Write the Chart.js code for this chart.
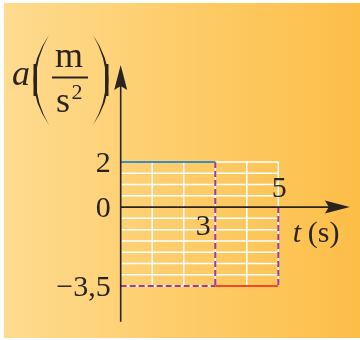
<!DOCTYPE html>
<html>
<head>
<meta charset="utf-8">
<script src="https://cdn.jsdelivr.net/npm/chart.js@4"></script>
<style>
  html, body { margin: 0; padding: 0; background: #ffffff; }
  #wrap {
    position: relative; width: 360px; height: 340px;
    background: #ffffff;
  }
  #paper {
    position: absolute; left: 4px; top: 3px; width: 356px; height: 335px;
    background: linear-gradient(to right, #fedb8f, #fdcb66 55%, #fdbe48);
  }
  #chart { position: absolute; left: 0; top: 0; }
</style>
</head>
<body>
<div id="wrap">
  <div id="paper"></div>
  <canvas id="chart" width="360" height="340"></canvas>
</div>
<script>
// ── DATOS ──────────────────────────────────────────
// tramos de tiempo (s) y aceleración de cada tramo (m/s²)
var tramoT   = [0, 3, 5];
var tramoA   = [2, -3.5];

// cuadrícula blanca
var gridT    = [1, 2, 3, 4, 5];
var gridA    = [2, 1.5, 1, 0.5, -0.5, -1, -1.5, -2, -2.5, -3, -3.5];

// marcas de los ejes
var yTickVal = [2, 0, -3.5];
var yTickTxt = ['2', '0', '\u22123,5'];
var xTickVal = [3, 5];
var xTickTxt = ['3', '5'];

// extremos de los ejes (flechas)
var ejeT     = [0, 7.27];
var ejeA     = [-5.08, 6.30];

// ── ARMADO DE SERIES ───────────────────────────────
function segs(list) {
  // lista de segmentos [[x1,y1,x2,y2], ...] -> puntos con cortes null
  var out = [];
  list.forEach(function (s) {
    out.push({ x: s[0], y: s[1] }, { x: s[2], y: s[3] }, { x: s[2], y: null });
  });
  return out;
}

var tMax = tramoT[tramoT.length - 1];
var aTop = tramoA[0], aBot = tramoA[1];

var gridH = segs(gridA.map(function (a) { return [0, a, tMax, a]; }));
var gridV = segs(gridT.map(function (t) { return [t, aBot, t, aTop]; }));

var azul = [{ x: tramoT[0], y: tramoA[0] }, { x: tramoT[1], y: tramoA[0] }];
var rojo = [{ x: tramoT[1], y: tramoA[1] }, { x: tramoT[2], y: tramoA[1] }];
var punteada = segs([
  [tramoT[1], aTop, tramoT[1], aBot],
  [tramoT[0], aBot, tramoT[1], aBot],
  [tramoT[2], 0, tramoT[2], aBot]
]);
var ejes = segs([
  [0, 0, ejeT[1] - 0.5, 0],
  [0, ejeA[0], 0, ejeA[1] - 0.8]
]);

// order alto = se dibuja primero (queda debajo)
function linea(data, color, width, order, dash) {
  return {
    data: data, showLine: true, borderColor: color, borderWidth: width,
    borderDash: dash || [], pointRadius: 0, spanGaps: false, clip: false,
    fill: false, tension: 0, order: order
  };
}

var SERIF = "'Liberation Serif', 'DejaVu Serif', serif";
var TINTA = '#2a2420';

// ── TEXTOS Y FLECHAS ───────────────────────────────
var extras = {
  id: 'extras',
  afterDatasetsDraw: function (chart) {
    var c = chart.ctx, sx = chart.scales.x, sy = chart.scales.y;
    var x0 = sx.getPixelForValue(0), y0 = sy.getPixelForValue(0);
    c.save();
    c.fillStyle = TINTA;

    // flecha eje t
    var tx = sx.getPixelForValue(ejeT[1]);
    c.beginPath();
    c.moveTo(tx, y0);
    c.lineTo(tx - 25, y0 - 6.5);
    c.lineTo(tx - 21, y0);
    c.lineTo(tx - 25, y0 + 6.5);
    c.closePath();
    c.fill();

    // flecha eje a
    var ty = sy.getPixelForValue(ejeA[1]);
    c.beginPath();
    c.moveTo(x0, ty);
    c.lineTo(x0 - 6.5, ty + 25);
    c.lineTo(x0, ty + 21);
    c.lineTo(x0 + 6.5, ty + 25);
    c.closePath();
    c.fill();

    // marcas eje a
    c.font = '30px ' + SERIF;
    c.textAlign = 'right';
    c.textBaseline = 'alphabetic';
    yTickVal.forEach(function (v, i) {
      c.fillText(yTickTxt[i], x0 - 10, sy.getPixelForValue(v) + 10);
    });

    // marcas eje t
    c.textAlign = 'center';
    c.fillText(xTickTxt[0], sx.getPixelForValue(xTickVal[0]) - 12, y0 + 28);
    c.fillText(xTickTxt[1], sx.getPixelForValue(xTickVal[1]) + 1, y0 - 10);

    // título eje t
    c.textAlign = 'left';
    c.font = 'italic 30px ' + SERIF;
    c.fillText('t', tx - 57, y0 + 35);
    c.font = '30px ' + SERIF;
    c.fillText('(s)', tx - 42, y0 + 35);

    // título eje a
    c.font = 'italic 36px ' + SERIF;
    c.fillText('a', 12, 85);
    c.textAlign = 'center';
    c.font = '36px ' + SERIF;
    c.fillText('m', 69, 67);
    c.fillText('s', 63, 112);
    c.font = '22px ' + SERIF;
    c.fillText('2', 77, 99);
    c.fillRect(52, 76.5, 36, 2);

    // paréntesis
    c.beginPath();
    c.moveTo(49, 35);
    c.quadraticCurveTo(18, 80, 49, 125);
    c.quadraticCurveTo(23, 80, 49, 35);
    c.fill();
    c.fillRect(33.5, 64, 3.5, 32);
    c.beginPath();
    c.moveTo(93, 35);
    c.quadraticCurveTo(124, 80, 93, 125);
    c.quadraticCurveTo(119, 80, 93, 35);
    c.fill();
    c.fillRect(105, 64, 3.5, 32);

    c.restore();
  }
};

new Chart(document.getElementById('chart'), {
  type: 'scatter',
  data: {
    datasets: [
      linea(gridH, '#ffffff', 1.5, 6),
      linea(gridV, '#ffffff', 1.5, 5),
      linea(punteada, '#9a3c9e', 2, 4, [6, 3]),
      linea(azul, '#3b8cc2', 2, 3),
      linea(rojo, '#ef4a2a', 2, 2),
      linea(ejes, TINTA, 1.6, 1)
    ]
  },
  options: {
    responsive: false,
    animation: false,
    layout: { padding: 0 },
    plugins: { legend: { display: false }, tooltip: { enabled: false } },
    scales: {
      x: { type: 'linear', display: false, min: -3.829, max: 7.592 },
      y: { type: 'linear', display: false, min: -5.895, max: 9.186 }
    }
  },
  plugins: [extras]
});
</script>
</body>
</html>
